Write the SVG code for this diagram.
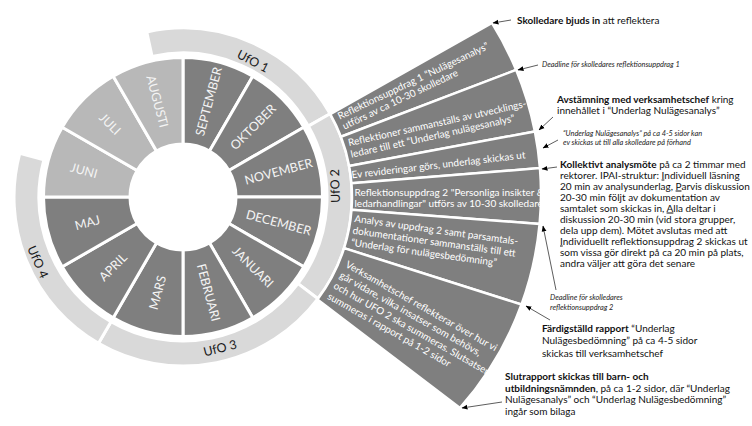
<svg xmlns="http://www.w3.org/2000/svg" width="752" height="426" viewBox="0 0 752 426">
<style>
.dk{fill:#7f7f7f;stroke:#fff;stroke-width:3}
.lt{fill:#b8b8b8;stroke:#fff;stroke-width:3}
.band{fill:#d9d9d9;stroke:#fff;stroke-width:3}
.row{fill:#7f7f7f;stroke:#fff;stroke-width:2.5}
.mon{font-family:Lato,"Liberation Sans",sans-serif;font-size:12.5px;fill:#f4f4f4;text-anchor:middle;dominant-baseline:central}
.ufo{font-family:Lato,"Liberation Sans",sans-serif;font-size:12.5px;fill:#1a1a1a;text-anchor:middle;dominant-baseline:central}
.ft{font-family:Lato,"Liberation Sans",sans-serif;font-size:10px;fill:#fff}
.an{font-family:Lato,"Liberation Sans",sans-serif;font-size:10px;fill:#111}
.it{font-family:Lato,"Liberation Sans",sans-serif;font-size:7.4px;font-style:italic;fill:#222}
.b{font-weight:bold}
.u{text-decoration:underline}
.con line{stroke:#333;stroke-width:0.8;marker-end:url(#ah)}
</style>
<defs>
<marker id="ah" markerWidth="6" markerHeight="6" refX="5.5" refY="3" orient="auto" markerUnits="userSpaceOnUse"><path d="M0,0.6 L6,3 L0,5.4 Z" fill="#000"/></marker>
</defs>
<rect width="752" height="426" fill="#fff"/>

<!-- UfO bands -->
<g id="ufo1"><path class="band" d="M146.71,31.94 A169 169 0 0 1 330.10,113.78 L308.34,126.09 A144 144 0 0 0 152.08,56.36 Z"/><text class="ufo" transform="translate(253,61) rotate(27.2)">UfO 1</text></g>
<g id="ufo2"><path class="band" d="M330.10,113.78 A169 169 0 0 1 317.97,298.70 L298.0,283.66 A144 144 0 0 0 308.34,126.09 Z"/><text class="ufo" transform="translate(335,186) rotate(-92)">UfO 2</text></g>
<g id="ufo3"><path class="band" d="M317.97,298.70 A169 169 0 0 1 98.5,343.36 L111,321.71 A144 144 0 0 0 298.0,283.66 Z"/><text class="ufo" transform="translate(220,348) rotate(-14)">UfO 3</text></g>
<g id="ufo4"><path class="band" d="M98.5,343.36 A169 169 0 0 1 19.76,153.26 L43.91,159.73 A144 144 0 0 0 111,321.71 Z"/><text class="ufo" transform="translate(38,262) rotate(66)">UfO 4</text></g>

<!-- months -->
<g id="september"><path class="dk" d="M183,57.5 A139.5 139.5 0 0 1 252.75,76.19 L209.5,151.10 A53 53 0 0 0 183,144 Z"/><text class="mon" transform="translate(208.6,101.4) rotate(-75)">SEPTEMBER</text></g>
<g id="oktober"><path class="dk" d="M252.75,76.19 A139.5 139.5 0 0 1 303.81,127.25 L228.90,170.5 A53 53 0 0 0 209.5,151.10 Z"/><text class="mon" transform="translate(253,127) rotate(-45)">OKTOBER</text></g>
<g id="november"><path class="dk" d="M303.81,127.25 A139.5 139.5 0 0 1 322.5,197 L236,197 A53 53 0 0 0 228.90,170.5 Z"/><text class="mon" transform="translate(278.6,171.4) rotate(-15)">NOVEMBER</text></g>
<g id="december"><path class="dk" d="M322.5,197 A139.5 139.5 0 0 1 303.81,266.75 L228.90,223.5 A53 53 0 0 0 236,197 Z"/><text class="mon" transform="translate(278.6,222.6) rotate(15)">DECEMBER</text></g>
<g id="januari"><path class="dk" d="M303.81,266.75 A139.5 139.5 0 0 1 252.75,317.81 L209.5,242.90 A53 53 0 0 0 228.90,223.5 Z"/><text class="mon" transform="translate(253,267) rotate(45)">JANUARI</text></g>
<g id="februari"><path class="dk" d="M252.75,317.81 A139.5 139.5 0 0 1 183,336.5 L183,250 A53 53 0 0 0 209.5,242.90 Z"/><text class="mon" transform="translate(208.6,292.6) rotate(75)">FEBRUARI</text></g>
<g id="mars"><path class="dk" d="M183,336.5 A139.5 139.5 0 0 1 113.25,317.81 L156.5,242.90 A53 53 0 0 0 183,250 Z"/><text class="mon" transform="translate(157.4,292.6) rotate(-75)">MARS</text></g>
<g id="april"><path class="dk" d="M113.25,317.81 A139.5 139.5 0 0 1 62.19,266.75 L137.10,223.5 A53 53 0 0 0 156.5,242.90 Z"/><text class="mon" transform="translate(113,267) rotate(-45)">APRIL</text></g>
<g id="maj"><path class="dk" d="M62.19,266.75 A139.5 139.5 0 0 1 43.5,197 L130,197 A53 53 0 0 0 137.10,223.5 Z"/><text class="mon" transform="translate(87.4,222.6) rotate(-15)">MAJ</text></g>
<g id="juni"><path class="lt" d="M43.5,197 A139.5 139.5 0 0 1 62.19,127.25 L137.10,170.5 A53 53 0 0 0 130,197 Z"/><text class="mon" transform="translate(84,170.5) rotate(15)">JUNI</text></g>
<g id="juli"><path class="lt" d="M62.19,127.25 A139.5 139.5 0 0 1 113.25,76.19 L156.5,151.10 A53 53 0 0 0 137.10,170.5 Z"/><text class="mon" transform="translate(110,124) rotate(45)">JULI</text></g>
<g id="augusti"><path class="lt" d="M113.25,76.19 A139.5 139.5 0 0 1 183,57.5 L183,144 A53 53 0 0 0 156.5,151.10 Z"/><text class="mon" transform="translate(157.4,101.4) rotate(75)">AUGUSTI</text></g>

<!-- fan rows -->
<g id="row1"><path class="row" d="M330.27,114.09 L492.04,23.01 A323 323 0 0 1 516.2,69.9 L340.91,136.79 A169 169 0 0 0 330.27,114.09 Z"/>
<text class="ft" transform="translate(338,120.6) rotate(-25.5)"><tspan x="2" y="0">Reflektionsuppdrag 1 “Nulägesanalys”</tspan><tspan x="2" y="11">utförs av ca 10-30 skolledare</tspan></text></g>
<g id="row2"><path class="row" d="M340.91,136.79 L516.2,69.9 A323 323 0 0 1 534.9,131.4 L349.14,166.02 A169 169 0 0 0 340.91,136.79 Z"/>
<text class="ft" transform="translate(347,146.6) rotate(-12.5)"><tspan x="2" y="0">Reflektioner sammanställs av utvecklings-</tspan><tspan x="2" y="11.8">ledare till ett “Underlag nulägesanalys”</tspan></text></g>
<g id="row3"><path class="row" d="M349.14,166.02 L534.9,131.4 A323 323 0 0 1 539.96,168.09 L351.45,183.36 A169 169 0 0 0 349.14,166.02 Z"/>
<text class="ft" transform="translate(350,178.6) rotate(-6.6)"><tspan x="2" y="0">Ev revideringar görs, underlag skickas ut</tspan></text></g>
<g id="row4"><path class="row" d="M351.45,183.36 L539.96,168.09 A323 323 0 0 1 539.61,223.88 L351.52,209.70 A169 169 0 0 0 351.45,183.36 Z"/>
<text class="ft" transform="translate(353,195.6) rotate(0)"><tspan x="1.5" y="0">Reflektionsuppdrag 2 "Personliga insikter &amp;</tspan><tspan x="1.5" y="11">ledarhandlingar" utförs av 10-30 skolledare</tspan></text></g>
<g id="row5"><path class="row" d="M351.52,209.70 L539.61,223.88 A323 323 0 0 1 521.51,304.51 L344.07,248.16 A169 169 0 0 0 351.52,209.70 Z"/>
<text class="ft" transform="translate(352,221.6) rotate(8)"><tspan x="2" y="0">Analys av uppdrag 2 samt parsamtals-</tspan><tspan x="2" y="12">dokumentationer sammanställs till ett</tspan><tspan x="2" y="24">“Underlag för nulägesbedömning”</tspan></text></g>
<g id="row6"><path class="row" d="M344.07,248.16 L521.51,304.51 A323 323 0 0 1 460.0,407.9 L317.46,299.38 A169 169 0 0 0 344.07,248.16 Z"/>
<text class="ft" transform="translate(343,265.6) rotate(29.5)"><tspan x="2" y="0">Verksamhetschef reflekterar över hur vi</tspan><tspan x="2" y="12.2">går vidare, vilka insatser som behövs,</tspan><tspan x="2" y="24.4">och hur UFO 2 ska summeras. Slutsatser</tspan><tspan x="2" y="36.6">summeras i rapport på 1-2 sidor</tspan></text></g>

<!-- connectors -->
<g id="connectors" class="con">
<line x1="511" y1="20" x2="493" y2="23"/>
<line x1="538" y1="65" x2="518" y2="70"/>
<line x1="553" y1="117" x2="539" y2="130"/>
<line x1="558" y1="140" x2="543" y2="148"/>
<line x1="557" y1="167" x2="542" y2="169"/>
<line x1="556" y1="290" x2="543" y2="226"/>
<line x1="550" y1="320" x2="526" y2="306"/>
<line x1="502" y1="402" x2="462" y2="408"/>
</g>

<!-- annotations -->
<g id="note-skolledare"><text class="an" x="517" y="23.5"><tspan class="b">Skolledare bjuds in</tspan> att reflektera</text></g>
<g id="note-deadline1"><text class="it" x="542" y="66.5">Deadline för skolledares reflektionsuppdrag 1</text></g>
<g id="note-avstamning"><text class="an" x="557" y="102.5"><tspan class="b">Avstämning med verksamhetschef</tspan> kring</text><text class="an" x="557" y="113.5">innehållet i “Underlag Nulägesanalys”</text></g>
<g id="note-underlag"><text class="it" x="563" y="135.5">“Underlag Nulägesanalys” på ca 4-5 sidor kan</text><text class="it" x="563" y="144.5">ev skickas ut till alla skolledare på förhand</text></g>
<g id="note-kollektivt"><text class="an" x="560" y="167.5"><tspan class="b">Kollektivt analysmöte</tspan> på ca 2 timmar med</text>
<text class="an" x="560" y="178.5">rektorer. IPAI-struktur: <tspan class="u">I</tspan>ndividuell läsning</text>
<text class="an" x="560" y="189.5">20 min av analysunderlag, <tspan class="u">P</tspan>arvis diskussion</text>
<text class="an" x="560" y="200.5">20-30 min följt av dokumentation av</text>
<text class="an" x="560" y="211.5">samtalet som skickas in, <tspan class="u">A</tspan>lla deltar i</text>
<text class="an" x="560" y="222.5">diskussion 20-30 min (vid stora grupper,</text>
<text class="an" x="560" y="233.5">dela upp dem). Mötet avslutas med att</text>
<text class="an" x="560" y="244.5"><tspan class="u">I</tspan>ndividuellt reflektionsuppdrag 2 skickas ut</text>
<text class="an" x="560" y="255.5">som vissa gör direkt på ca 20 min på plats,</text>
<text class="an" x="560" y="266.5">andra väljer att göra det senare</text></g>
<g id="note-deadline2"><text class="it" x="550" y="299.5">Deadline för skolledares</text><text class="it" x="550" y="309.5">reflektionsuppdrag 2</text></g>
<g id="note-fardigstalld"><text class="an" x="542" y="331.5"><tspan class="b">Färdigställd rapport</tspan> “Underlag</text><text class="an" x="542" y="344">Nulägesbedömning” på ca 4-5 sidor</text><text class="an" x="542" y="356.5">skickas till verksamhetschef</text></g>
<g id="note-slutrapport"><text class="an" x="505" y="380"><tspan class="b">Slutrapport skickas till barn- och</tspan></text><text class="an" x="505" y="391.5"><tspan class="b">utbildningsnämnden</tspan>, på ca 1-2 sidor, där “Underlag</text><text class="an" x="505" y="403">Nulägesanalys” och “Underlag Nulägesbedömning”</text><text class="an" x="505" y="414.5">ingår som bilaga</text></g>
</svg>
